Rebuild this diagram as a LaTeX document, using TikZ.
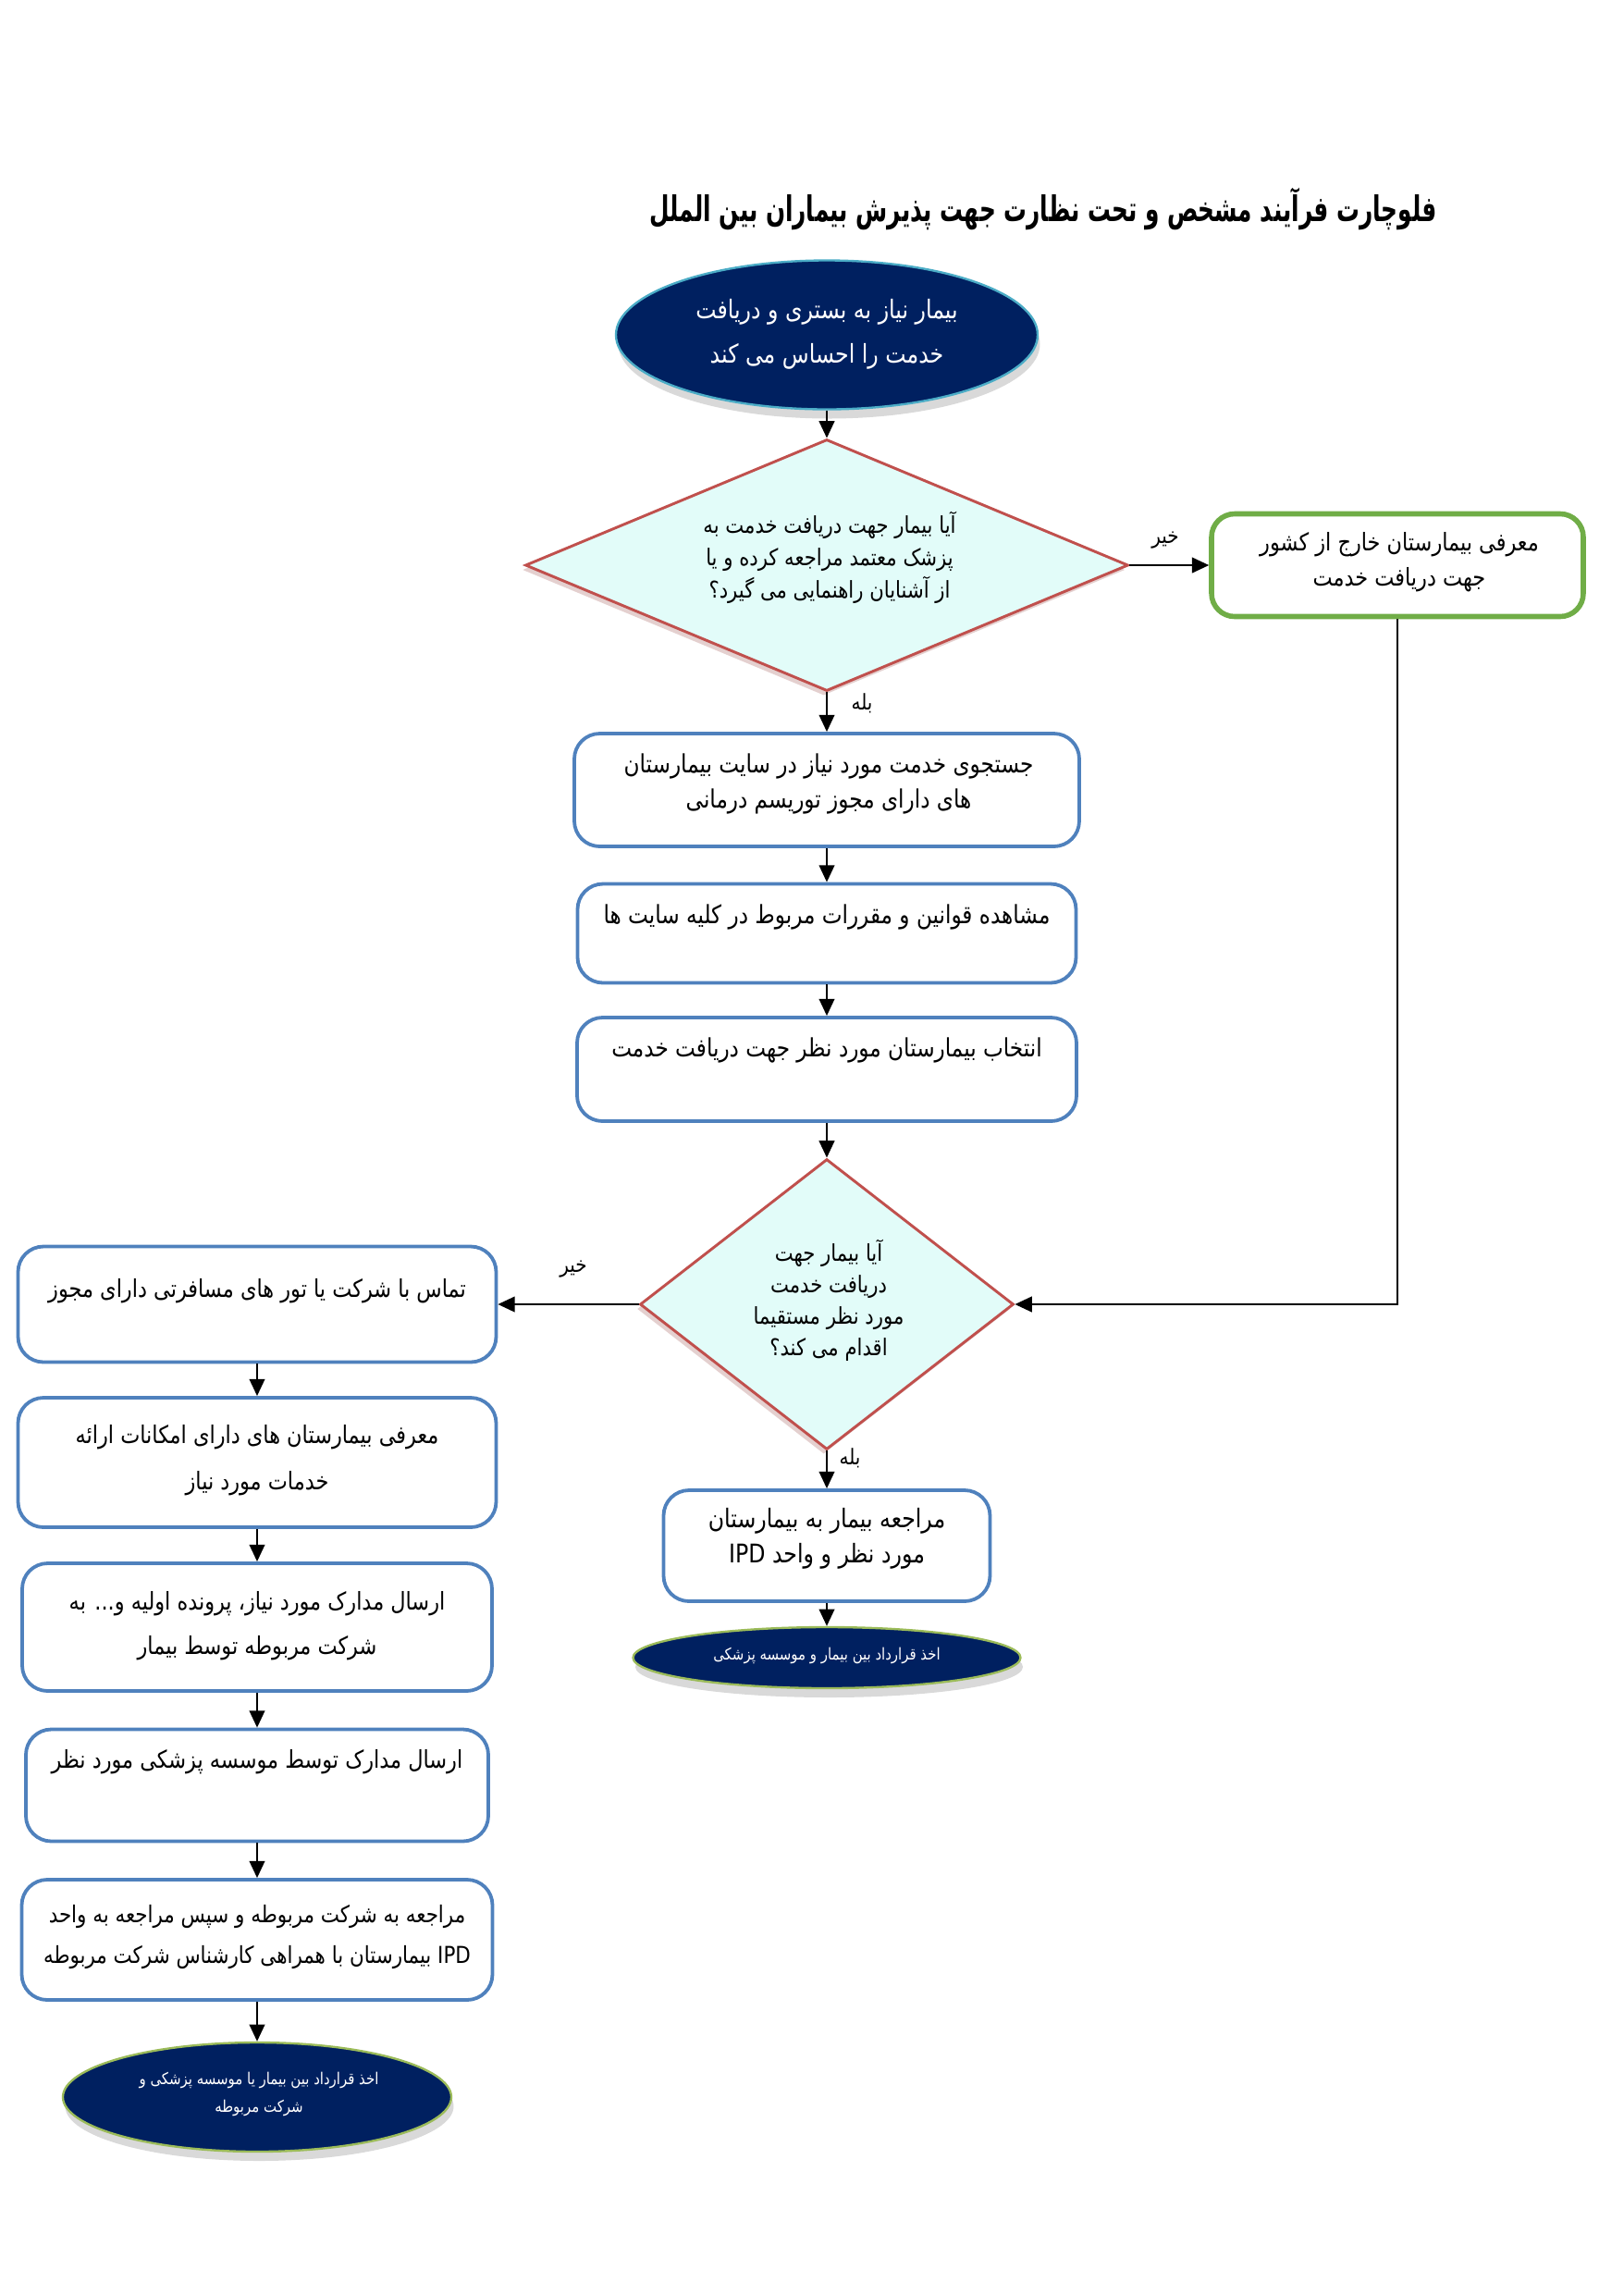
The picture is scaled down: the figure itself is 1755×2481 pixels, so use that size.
\documentclass[tikz,border=0pt]{standalone}
\usepackage{fontspec}
\usetikzlibrary{shapes.geometric,arrows.meta,shadows}
\TeXXeTstate=1
\newfontfamily\fa[Script=Arabic,FakeStretch=0.85]{DejaVu Sans}
\newfontfamily\fatitle[Script=Arabic,FakeStretch=0.65]{DejaVu Sans}
\newcommand\fatxt[1]{\beginR #1\endR}
\definecolor{navy}{RGB}{0,32,96}
\definecolor{edgeblue}{RGB}{79,129,189}
\definecolor{dred}{RGB}{192,80,77}
\definecolor{lcyan}{RGB}{226,252,249}
\definecolor{ggreen}{RGB}{112,173,71}
\definecolor{lblue}{RGB}{75,172,198}
\definecolor{ygreen}{RGB}{155,187,89}
\begin{document}
\begin{tikzpicture}[x=0.12mm,y=-0.12mm,
  sz/.style 2 args={minimum width=#1*0.12mm,minimum height=#2*0.12mm},
  fs/.style 2 args={font=\fa\fontsize{#1}{#2}\selectfont},
  box/.style={draw=edgeblue,line width=1.3pt,rounded corners=3.3mm,inner sep=0pt,fill=white},
  gbox/.style={draw=ggreen,line width=1.9pt,rounded corners=3mm,inner sep=0pt,fill=white},
  dec/.style={diamond,draw=dred,line width=1pt,fill=lcyan,inner sep=0pt,
    drop shadow={opacity=0.3,fill=dred!60!gray,shadow xshift=-0.4mm,shadow yshift=-0.6mm}},
  term/.style={ellipse,fill=navy,inner sep=0pt,line width=0.8pt,
    drop shadow={opacity=0.3,shadow xshift=0.3mm,shadow yshift=-1.2mm}},
  txt/.style={align=center,inner sep=0pt},
  wtxt/.style={align=center,inner sep=0pt,text=white},
  arr/.style={-{Triangle[length=2.2mm,width=2mm]},line width=0.7pt},
  lbl/.style={inner sep=0pt,fs={8}{10}}]
\useasboundingbox (0,0) rectangle (1755,2481);

% title
\node[txt,font=\fatitle\bfseries\fontsize{13}{15}\selectfont] (title) at (1128,226)
  {\fatxt{فلوچارت فرآیند مشخص و تحت نظارت جهت پذیرش بیماران بین الملل}};

% central column
\node[term,draw=lblue,sz={456}{161}] (start) at (894,362) {};
\node[wtxt,fs={9.5}{16.5}] (startt) at (894,361)
  {\fatxt{بیمار نیاز به بستری و دریافت}\\\fatxt{خدمت را احساس می کند}};

\node[dec,sz={652}{272}] (d1) at (894,611) {};
\node[txt,fs={8.5}{12}] (d1t) at (897,603)
  {\fatxt{آیا بیمار جهت دریافت خدمت به}\\\fatxt{پزشک معتمد مراجعه کرده و یا}\\\fatxt{از آشنایان راهنمایی می گیرد؟}};

\node[gbox,sz={402}{111}] (green) at (1511,611) {};
\node[txt,fs={9}{13}] (greent) at (1513,608)
  {\fatxt{معرفی بیمارستان خارج از کشور}\\\fatxt{جهت دریافت خدمت}};

\node[box,sz={546}{122}] (b1) at (894,854) {};
\node[txt,fs={9.3}{13}] (b1t) at (896,847)
  {\fatxt{جستجوی خدمت مورد نیاز در سایت بیمارستان}\\\fatxt{های دارای مجوز توریسم درمانی}};

\node[box,sz={539}{107}] (b2) at (894,1009) {};
\node[txt,fs={9.3}{13}] (b2t) at (894,991)
  {\fatxt{مشاهده  قوانین و مقررات مربوط در کلیه سایت ها}};

\node[box,sz={540}{112}] (b3) at (894,1156) {};
\node[txt,fs={9.3}{13}] (b3t) at (894,1135)
  {\fatxt{انتخاب بیمارستان مورد نظر جهت دریافت خدمت}};

\node[dec,sz={404}{314}] (d2) at (894,1410) {};
\node[txt,fs={8.5}{11.6}] (d2t) at (896,1406)
  {\fatxt{آیا بیمار جهت}\\\fatxt{دریافت خدمت}\\\fatxt{مورد نظر مستقیما}\\\fatxt{اقدام می کند؟}};

\node[box,sz={353}{120}] (r1) at (894,1671) {};
\node[txt,fs={9.5}{13}] (r1t) at (894,1663)
  {\fatxt{مراجعه بیمار به بیمارستان}\\\fatxt{مورد نظر و واحد \beginL IPD\endL}};

\node[term,draw=ygreen,sz={419}{66}] (endr) at (894,1792) {};
\node[wtxt,fs={6}{9}] (endrt) at (894,1790)
  {\fatxt{اخذ قرارداد بین بیمار و موسسه پزشکی}};

% left column
\node[box,sz={517}{125}] (l1) at (278,1410) {};
\node[txt,fs={9}{13}] (l1t) at (278,1396)
  {\fatxt{تماس با شرکت یا تور های مسافرتی دارای مجوز}};

\node[box,sz={517}{140}] (l2) at (278,1581) {};
\node[txt,fs={9}{17}] (l2t) at (278,1579)
  {\fatxt{معرفی بیمارستان های دارای امکانات ارائه}\\\fatxt{خدمات مورد نیاز}};

\node[box,sz={508}{138}] (l3) at (278,1759) {};
\node[txt,fs={9}{16.5}] (l3t) at (278,1758)
  {\fatxt{ارسال مدارک مورد نیاز، پرونده اولیه و... به}\\\fatxt{شرکت مربوطه توسط بیمار}};

\node[box,sz={500}{121}] (l4) at (278,1930) {};
\node[txt,fs={9}{13}] (l4t) at (278,1905)
  {\fatxt{ارسال مدارک توسط موسسه پزشکی مورد نظر}};

\node[box,sz={509}{130}] (l5) at (278,2097) {};
\node[txt,fs={8.6}{14.7}] (l5t) at (278,2094)
  {\fatxt{مراجعه به شرکت مربوطه و سپس مراجعه به واحد}\\\fatxt{\beginL IPD\endL{} بیمارستان با همراهی کارشناس شرکت مربوطه}};

\node[term,draw=ygreen,sz={420}{118}] (endl) at (278,2267) {};
\node[wtxt,fs={6}{10.5}] (endlt) at (280,2264)
  {\fatxt{اخذ قرارداد بین بیمار یا موسسه پزشکی و}\\\fatxt{شرکت مربوطه}};

% connectors
\draw[arr] (start) -- (d1);
\draw[arr] (d1) -- (b1);
\draw[arr] (b1) -- (b2);
\draw[arr] (b2) -- (b3);
\draw[arr] (b3) -- (d2);
\draw[arr] (d2) -- (r1);
\draw[arr] (r1) -- (endr);
\draw[arr] (d1) -- (green);
\draw[arr] (green.south) |- (d2.east);
\draw[arr] (d2) -- (l1);
\draw[arr] (l1) -- (l2);
\draw[arr] (l2) -- (l3);
\draw[arr] (l3) -- (l4);
\draw[arr] (l4) -- (l5);
\draw[arr] (l5) -- (endl);

% labels
\node[lbl] (no1) at (1260,584) {\fatxt{خیر}};
\node[lbl] (yes1) at (932,760) {\fatxt{بله}};
\node[lbl] (no2) at (620,1372) {\fatxt{خیر}};
\node[lbl] (yes2) at (919,1576) {\fatxt{بله}};
\end{tikzpicture}
\end{document}
